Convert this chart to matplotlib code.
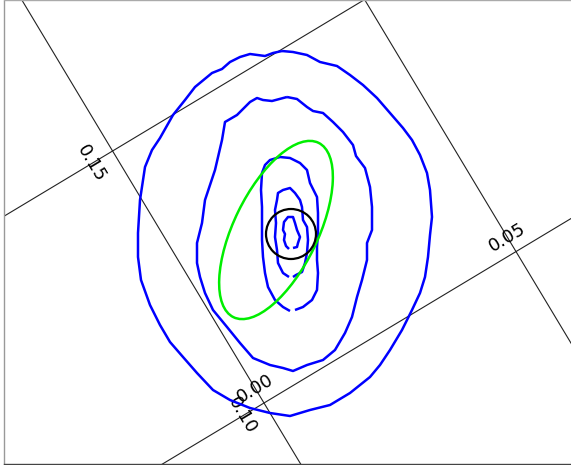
import matplotlib
matplotlib.use('Agg')
import matplotlib.pyplot as plt
import numpy as np
from matplotlib.transforms import Affine2D
from matplotlib.patches import Ellipse, Circle

# ---------------- data (image pixel frame: x right, y down) ----------------
contour_outer = [(282, 51), (293, 52), (307, 55), (320, 62), (337, 66), (350, 75), (363, 85),
                 (377, 98), (390, 113), (403, 128), (412, 140), (420, 155), (427, 173),
                 (430, 190), (432, 217), (430, 235), (428, 257), (425, 277), (420, 293),
                 (412, 310), (402, 330), (390, 350), (380, 365), (370, 377), (350, 393),
                 (330, 405), (310, 410), (290, 416), (270, 413), (250, 408), (230, 400),
                 (213, 390), (197, 373), (183, 357), (170, 342), (160, 325), (150, 305),
                 (141, 280), (138, 257), (138, 233), (140, 200), (145, 167), (152, 150),
                 (160, 138), (173, 115), (185, 100), (195, 87), (212, 73), (222, 69),
                 (230, 62), (240, 57), (250, 54), (265, 56), (273, 53), (282, 51)]

contour_second = [(287, 97), (297, 99), (307, 107), (313, 111), (323, 113), (333, 122),
                  (343, 132), (353, 145), (356, 156), (365, 168), (370, 187), (372, 207),
                  (372, 230), (367, 243), (367, 260), (362, 280), (357, 297), (352, 317),
                  (345, 333), (335, 350), (323, 360), (307, 365), (293, 371), (283, 368),
                  (270, 365), (253, 358), (240, 343), (227, 327), (213, 310), (205, 293),
                  (200, 277), (197, 263), (197, 243), (202, 223), (205, 200), (215, 170),
                  (222, 140), (225, 122), (237, 115), (250, 102), (257, 98), (263, 100),
                  (272, 101), (287, 97)]

contour_third = [(295, 310), (303, 307), (312, 300), (317, 290), (318, 273), (317, 260),
                 (317, 247), (318, 233), (318, 213), (317, 197), (310, 183), (307, 170),
                 (300, 163), (290, 158), (280, 157), (270, 160), (265, 165), (262, 173),
                 (261, 190), (262, 207), (262, 223), (262, 240), (263, 257), (265, 273),
                 (268, 287), (275, 300), (283, 307), (290, 311)]

contour_fourth = [(293, 277), (296, 275), (302, 272), (305, 263), (307, 253), (308, 240),
                  (307, 227), (303, 220), (302, 207), (300, 200), (295, 193), (290, 188),
                  (283, 190), (278, 193), (277, 200), (275, 210), (276, 223), (275, 237),
                  (277, 250), (278, 263), (283, 273), (289, 277)]

contour_inner = [(293, 248), (297, 247), (298, 243), (300, 237), (297, 230), (295, 223),
                 (293, 217), (288, 217), (284, 222), (283, 230), (285, 234), (284, 240),
                 (286, 246), (289, 249)]

contours = [contour_outer, contour_second, contour_third, contour_fourth, contour_inner]

# green ellipse: centre, semi-axes, angle ; black circle: centre, radius
ellipse_center = (276, 230)
ellipse_semi = (97, 42)
ellipse_angle = -64
circle_center = (291, 234)
circle_radius = 25

# world-coordinate grid
grid_a = [0.00, 0.05]
grid_b = [0.10, 0.15]
a_labels = ['0.00', '0.05']
b_labels = ['0.10', '0.15']

# ---------------- figure ----------------
W, H = 571, 465
fig = plt.figure(figsize=(W / 100, H / 100), dpi=100)
x0, x1, y0, y1 = 3.5, 575.0, 0.5, 464.0
ax = fig.add_axes([x0 / W, 1 - y1 / H, (x1 - x0) / W, (y1 - y0) / H])
ax.set_xlim(x0, x1)
ax.set_ylim(y1, y0)
ax.set_xticks([])
ax.set_yticks([])
ax.spines['right'].set_visible(False)
ax.spines['top'].set_color('#aaaaaa')
ax.spines['left'].set_color('#999999')
ax.spines['bottom'].set_color('#444444')
for s in ax.spines.values():
    s.set_linewidth(1.0)

# world -> pixel affine transform
S = 294 / 0.05
th = np.deg2rad(31)
ref_pix = (264, 403)          # pixel of world (0.00, 0.10)
ca, sa = np.cos(th), np.sin(th)
cb, sb = np.cos(th + np.pi / 2), np.sin(th + np.pi / 2)
tx = ref_pix[0] - 0.10 * S * cb
ty = ref_pix[1] + 0.10 * S * sb
world = Affine2D(np.array([[S * ca, S * cb, tx],
                           [-S * sa, -S * sb, ty],
                           [0, 0, 1]])) + ax.transData

for a in grid_a:
    ax.plot([a, a], [-1, 1], color='#222222', lw=0.8, transform=world, zorder=1)
for b in grid_b:
    ax.plot([-1, 1], [b, b], color='#222222', lw=0.8, transform=world, zorder=1)

for a, lab in zip(grid_a, a_labels):
    ax.text(a, 0.10 + 17 / S, lab, transform=world, rotation=31, rotation_mode='anchor',
            ha='center', va='center', fontsize=13, color='black', zorder=2)
for b, lab in zip(grid_b, b_labels):
    ax.text(-25 / S, b, lab, transform=world, rotation=-59, rotation_mode='anchor',
            ha='center', va='center', fontsize=13, color='black', zorder=2)

for c in contours:
    xs, ys = zip(*c)
    ax.plot(xs, ys, color='#0000ff', lw=1.8, solid_joinstyle='round',
            solid_capstyle='butt', zorder=3)

ax.add_patch(Ellipse(ellipse_center, 2 * ellipse_semi[0], 2 * ellipse_semi[1],
                     angle=ellipse_angle, fill=False, edgecolor='#00ee00', lw=1.8, zorder=4))
ax.add_patch(Circle(circle_center, circle_radius, fill=False, edgecolor='black',
                    lw=1.6, zorder=5))

fig.savefig('out.png', dpi=100)
